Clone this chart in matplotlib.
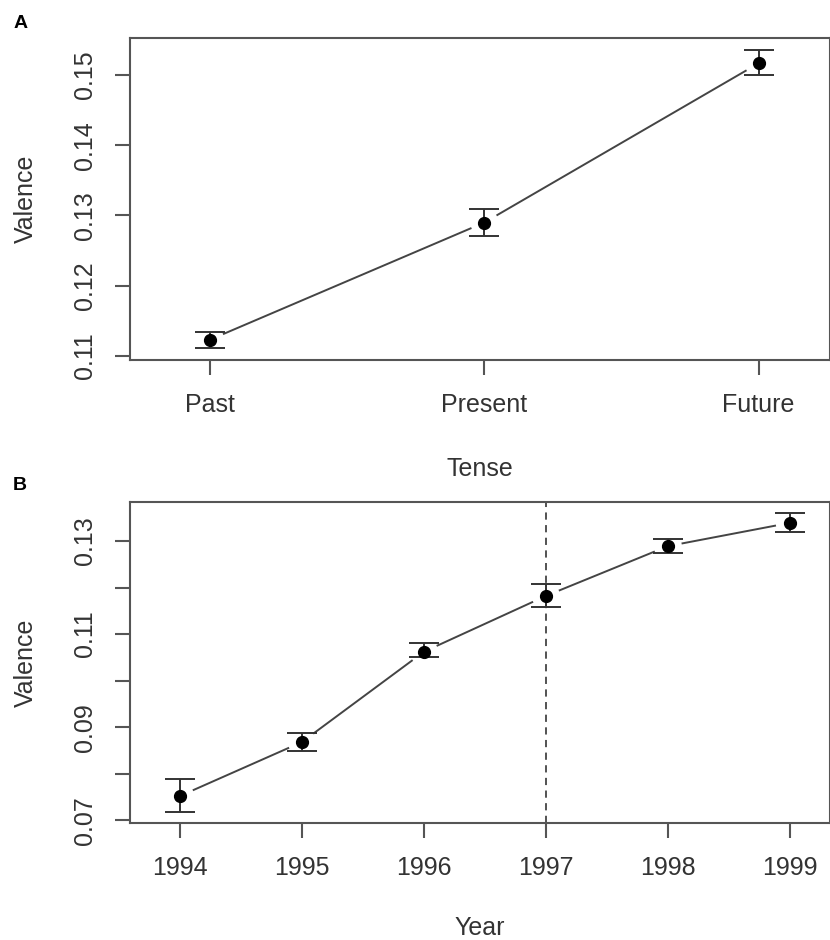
import matplotlib
matplotlib.use('Agg')
import matplotlib.pyplot as plt
import numpy as np

plt.rcParams['font.family'] = ['Liberation Sans', 'DejaVu Sans']

# Panel A data
tenses = ['Past', 'Present', 'Future']
tense_val = [0.1123, 0.1290, 0.1517]
tense_lo = [0.1111, 0.1271, 0.1500]
tense_hi = [0.1134, 0.1309, 0.1536]

# Panel B data
years = [1994, 1995, 1996, 1997, 1998, 1999]
year_val = [0.0752, 0.0868, 0.1062, 0.1182, 0.1289, 0.1339]
year_lo = [0.0717, 0.0849, 0.1051, 0.1159, 0.1275, 0.1320]
year_hi = [0.0788, 0.0887, 0.1080, 0.1208, 0.1304, 0.1361]

grey = '#555555'
txt = '#333333'
fs = 18


def gapped_line(ax, x, y, gap=15):
    # R style type="b": segments stop short of the points
    pts = ax.transData.transform(np.column_stack([x, y]))
    inv = ax.transData.inverted()
    for i in range(len(pts) - 1):
        p0, p1 = pts[i], pts[i + 1]
        d = p1 - p0
        u = d / np.hypot(*d)
        a = inv.transform(p0 + u * gap)
        b = inv.transform(p1 - u * gap)
        ax.plot([a[0], b[0]], [a[1], b[1]], color='#444444', lw=1.4)


def style(ax):
    for s in ax.spines.values():
        s.set_color(grey)
        s.set_linewidth(1.5)
    ax.tick_params(direction='out', length=11, width=1.5, color=grey,
                   labelcolor=txt, labelsize=fs)
    ax.tick_params(axis='x', pad=12.5)
    ax.tick_params(axis='y', pad=13)
    for lab in ax.get_yticklabels():
        lab.set_rotation(90)
        lab.set_va('center')


fig = plt.figure(figsize=(8.3, 9.4), dpi=100)

# ---- A ----
axA = fig.add_axes([0.1566, 0.617, 0.8434, 0.3426])
axA.set_xlim(0.708, 3.26)
axA.set_ylim(0.1094, 0.1553)
xA = np.arange(1, len(tenses) + 1)
axA.set_xticks(xA)
axA.set_xticklabels(tenses)
axA.set_yticks([0.11, 0.12, 0.13, 0.14, 0.15])
axA.set_yticklabels(['0.11', '0.12', '0.13', '0.14', '0.15'])
gapped_line(axA, xA, tense_val)
yA = np.array(tense_val)
axA.errorbar(xA, yA, yerr=[yA - np.array(tense_lo), np.array(tense_hi) - yA],
             fmt='o', color='black', ms=8.5, ecolor='#333333', elinewidth=1.4,
             capsize=11, capthick=1.4)
style(axA)
axA.set_ylabel('Valence', fontsize=fs, color=txt)
axA.set_xlabel('Tense', fontsize=fs, color=txt)
axA.yaxis.set_label_coords(-0.131, 0.5)
axA.xaxis.set_label_coords(0.5, -0.30)
fig.text(0.0157, 0.9755, 'A', fontsize=14, fontweight='bold', va='center')

# ---- B ----
axB = fig.add_axes([0.1566, 0.1245, 0.8434, 0.3415])
axB.set_xlim(1993.59, 1999.33)
axB.set_ylim(0.0694, 0.1384)
axB.set_xticks(years)
axB.set_xticklabels([str(y) for y in years])
yt = np.round(np.arange(0.07, 0.131, 0.01), 2)
axB.set_yticks(yt)
axB.set_yticklabels(['%.2f' % v if i % 2 == 0 else '' for i, v in enumerate(yt)])
axB.axvline(1997, color='#444444', lw=1.3, ls=(0, (4, 3)))
gapped_line(axB, years, year_val)
yB = np.array(year_val)
axB.errorbar(years, yB, yerr=[yB - np.array(year_lo), np.array(year_hi) - yB],
             fmt='o', color='black', ms=8.5, ecolor='#333333', elinewidth=1.4,
             capsize=11, capthick=1.4)
style(axB)
axB.set_ylabel('Valence', fontsize=fs, color=txt)
axB.set_xlabel('Year', fontsize=fs, color=txt)
axB.yaxis.set_label_coords(-0.131, 0.5)
axB.xaxis.set_label_coords(0.5, -0.29)
fig.text(0.0157, 0.484, 'B', fontsize=14, fontweight='bold', va='center')

fig.savefig('out.png', dpi=100)
